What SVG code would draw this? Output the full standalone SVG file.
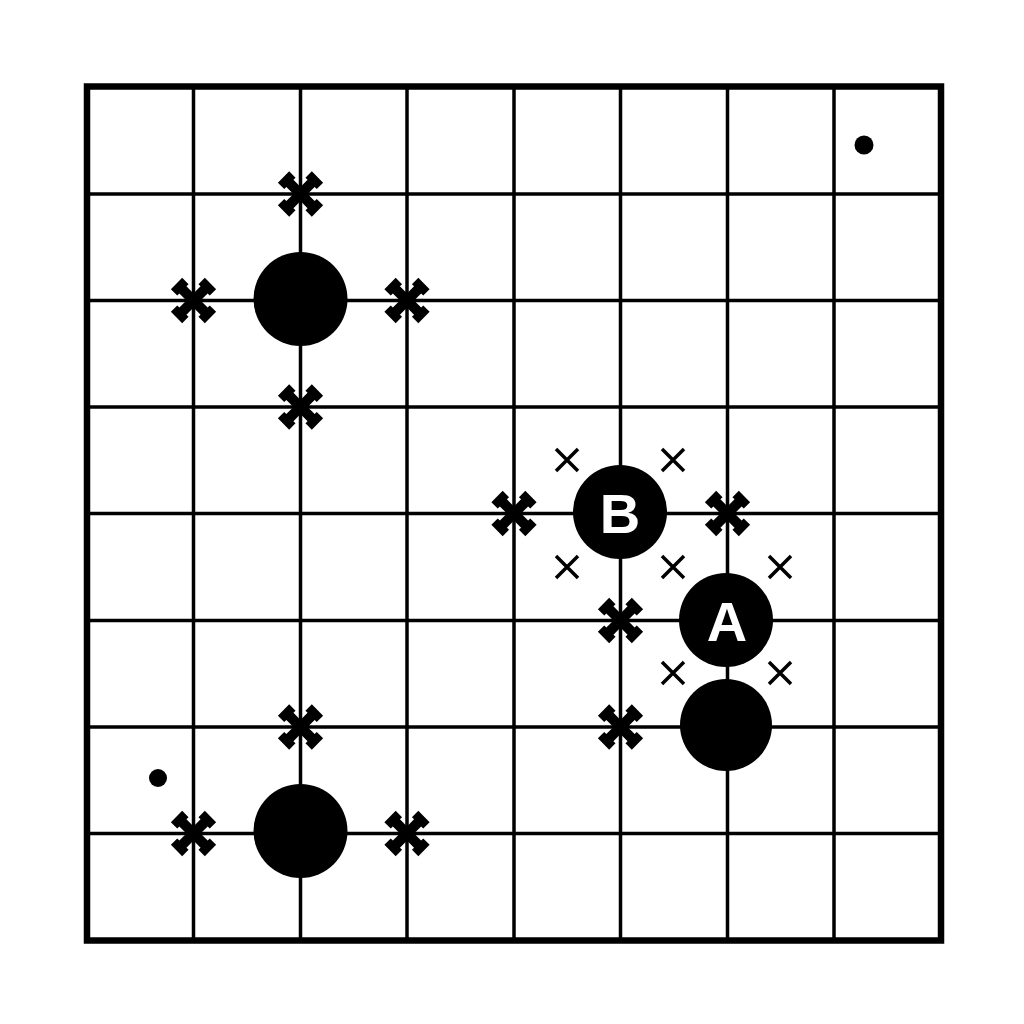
<svg xmlns="http://www.w3.org/2000/svg" width="1024" height="1024" viewBox="0 0 1024 1024">
<style>
.grid line{stroke:#000;stroke-width:3.5}
.border{fill:none;stroke:#000;stroke-width:6.5}
.stone{fill:#000}
.dot{fill:#000}
.thin{stroke:#000;stroke-width:3.5;stroke-linecap:butt;fill:none}
.lbl{font-family:"Liberation Sans",Arial,sans-serif;font-weight:bold;font-size:56px;fill:#fff;text-anchor:middle}
</style>
<defs>
<g id="bx">
<polygon id="arm" points="0,-5 15,-5 15,-8 24,-8 24,8 15,8 15,5 0,5" transform="rotate(45)"/>
<use href="#arm" transform="rotate(90)"/>
<use href="#arm" transform="rotate(180)"/>
<use href="#arm" transform="rotate(270)"/>
</g>
<g id="tx">
<path d="M-11,-11 L11,11 M11,-11 L-11,11" class="thin"/>
</g>
</defs>
<rect width="1024" height="1024" fill="#fff"/>
<g id="board">
<g class="grid">
<line x1="193.5" y1="86.5" x2="193.5" y2="940.5"/>
<line x1="300.5" y1="86.5" x2="300.5" y2="940.5"/>
<line x1="407" y1="86.5" x2="407" y2="940.5"/>
<line x1="514" y1="86.5" x2="514" y2="940.5"/>
<line x1="620.5" y1="86.5" x2="620.5" y2="940.5"/>
<line x1="727.5" y1="86.5" x2="727.5" y2="940.5"/>
<line x1="834" y1="86.5" x2="834" y2="940.5"/>
<line x1="87" y1="194" x2="941" y2="194"/>
<line x1="87" y1="300.5" x2="941" y2="300.5"/>
<line x1="87" y1="407" x2="941" y2="407"/>
<line x1="87" y1="513.5" x2="941" y2="513.5"/>
<line x1="87" y1="620.5" x2="941" y2="620.5"/>
<line x1="87" y1="727" x2="941" y2="727"/>
<line x1="87" y1="833.5" x2="941" y2="833.5"/>
</g>
<rect class="border" x="87" y="86.5" width="854" height="854"/>
</g>
<g id="marks">
<circle class="dot" cx="864" cy="145" r="9.5"/>
<circle class="dot" cx="158" cy="778" r="9"/>
<use href="#bx" x="300.5" y="194"/>
<use href="#bx" x="193.5" y="300.5"/>
<use href="#bx" x="407" y="300.5"/>
<use href="#bx" x="300.5" y="407"/>
<use href="#bx" x="300.5" y="727"/>
<use href="#bx" x="193.5" y="833.5"/>
<use href="#bx" x="407" y="833.5"/>
<use href="#bx" x="514" y="513.5"/>
<use href="#bx" x="727.5" y="513.5"/>
<use href="#bx" x="620.5" y="620.5"/>
<use href="#bx" x="620.5" y="727"/>
<use href="#tx" x="567" y="460"/>
<use href="#tx" x="673" y="460"/>
<use href="#tx" x="567" y="567"/>
<use href="#tx" x="673" y="567"/>
<use href="#tx" x="780" y="567"/>
<use href="#tx" x="673" y="673"/>
<use href="#tx" x="780" y="673"/>
</g>
<g id="stone-top"><circle class="stone" cx="300.5" cy="299" r="47"/></g>
<g id="stone-bottom"><circle class="stone" cx="300.5" cy="831" r="47"/></g>
<g id="stone-B"><circle class="stone" cx="620" cy="512" r="47"/><text class="lbl" x="620" y="533">B</text></g>
<g id="stone-A"><circle class="stone" cx="726" cy="620" r="47"/><text class="lbl" x="727" y="641">A</text></g>
<g id="stone-C"><circle class="stone" cx="726" cy="725" r="46"/></g>
</svg>
